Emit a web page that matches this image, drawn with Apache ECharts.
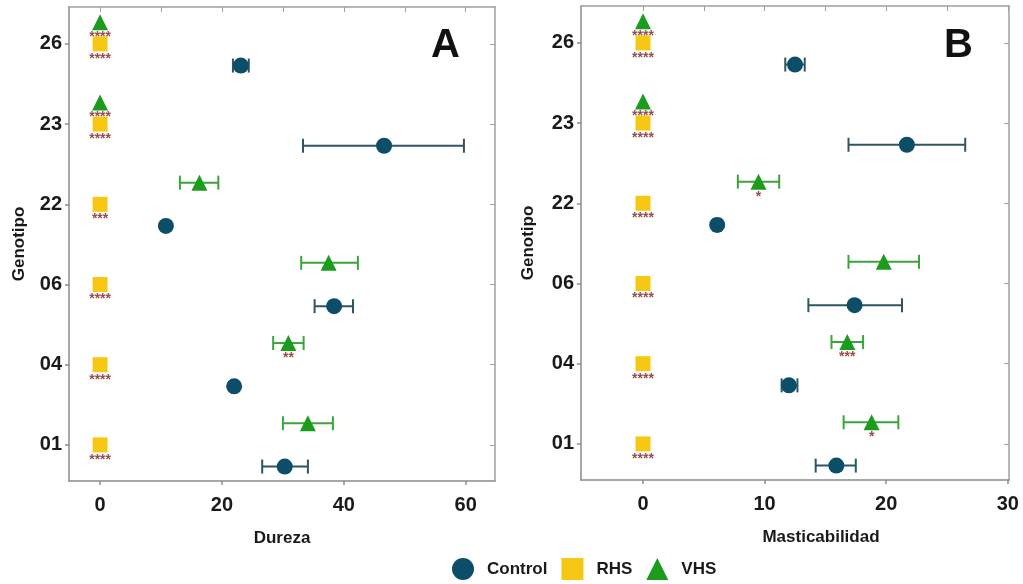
<!DOCTYPE html>
<html>
<head>
<meta charset="utf-8">
<title>Dureza y Masticabilidad</title>
<style>
  html, body { margin: 0; padding: 0; background: #fff; }
  #main { width: 1023px; height: 584px; }
</style>
<script src="https://cdn.jsdelivr.net/npm/echarts@6/dist/echarts.min.js"></script>
</head>
<body>
<div id="main"></div>
<script>
// datos (orden de abajo hacia arriba)
var genotipos = ['01', '04', '06', '22', '23', '26'];

// Panel A - Dureza
var durezaControl   = [30.3, 22.0, 38.4, 10.8, 46.6, 23.1];
var durezaControlLo = [26.6, 21.6, 35.2, 10.4, 33.3, 21.8];
var durezaControlHi = [34.1, 22.4, 41.5, 11.2, 59.7, 24.4];
var durezaRHS       = [0, 0, 0, 0, 0, 0];
var durezaVHS       = [34.1, 30.9, 37.5, 16.3, 0, 0];
var durezaVHSLo     = [30.0, 28.4, 33.0, 13.1, 0, 0];
var durezaVHSHi     = [38.2, 33.4, 42.3, 19.4, 0, 0];
var durezaRHSStars  = ['****', '****', '****', '***', '****', '****'];
var durezaVHSStars  = ['', '**', '', '', '****', '****'];

// Panel B - Masticabilidad
var mastControl   = [15.9, 12.0, 17.4, 6.1, 21.7, 12.5];
var mastControlLo = [14.2, 11.4, 13.6, 5.8, 16.9, 11.7];
var mastControlHi = [17.5, 12.7, 21.3, 6.4, 26.5, 13.3];
var mastRHS       = [0, 0, 0, 0, 0, 0];
var mastVHS       = [18.8, 16.8, 19.8, 9.5, 0, 0];
var mastVHSLo     = [16.5, 15.5, 16.9, 7.8, 0, 0];
var mastVHSHi     = [21.0, 18.1, 22.7, 11.2, 0, 0];
var mastRHSStars  = ['****', '****', '****', '****', '****', '****'];
var mastVHSStars  = ['*', '***', '', '*', '****', '****'];

var durezaTicks = [0, 20, 40, 60];
var durezaMinor = [0, 10, 20, 30, 40, 50, 60];
var mastTicks = [0, 10, 20, 30];
var mastMinor = [0, 5, 10, 15, 20, 25, 30];

var FONT = 'Liberation Sans, Arial, sans-serif';
var TXT = '#1a1a1a';
var AXIS = '#8a8a8a';
var C_CONTROL = '#0c4e68', C_CONTROL_BAR = '#2f5565';
var C_RHS = '#f6c814';
var C_VHS = '#1c9c1c', C_VHS_BAR = '#3aa53a';
var C_STAR = '#7d1d1d';
var DODGE = 0.27;

var myChart = echarts.init(document.getElementById('main'));

// barra de error horizontal
function errorBar(params, api) {
    var lo = api.coord([api.value(0), api.value(2)]);
    var hi = api.coord([api.value(1), api.value(2)]);
    var h = 7;
    var st = { stroke: api.visual('color'), lineWidth: 2 };
    return {
        type: 'group',
        children: [
            { type: 'line', shape: { x1: lo[0], y1: lo[1], x2: hi[0], y2: hi[1] }, style: st },
            { type: 'line', shape: { x1: lo[0], y1: lo[1] - h, x2: lo[0], y2: lo[1] + h }, style: st },
            { type: 'line', shape: { x1: hi[0], y1: hi[1] - h, x2: hi[0], y2: hi[1] + h }, style: st }
        ]
    };
}

function panelSeries(g, ctrl, ctrlLo, ctrlHi, rhs, vhs, vhsLo, vhsHi, rhsStars, vhsStars) {
    var ctrlBars = [], vhsBars = [], ctrlPts = [], rhsPts = [], vhsPts = [], stars = [];
    for (var i = 0; i < genotipos.length; i++) {
        ctrlBars.push([ctrlLo[i], ctrlHi[i], i - DODGE]);
        if (vhsHi[i] > vhsLo[i]) vhsBars.push([vhsLo[i], vhsHi[i], i + DODGE]);
        ctrlPts.push([ctrl[i], i - DODGE]);
        rhsPts.push([rhs[i], i]);
        vhsPts.push([vhs[i], i + DODGE]);
        if (rhsStars[i]) stars.push({ name: rhsStars[i], value: [rhs[i], i] });
        if (vhsStars[i]) stars.push({ name: vhsStars[i], value: [vhs[i], i + DODGE] });
    }
    var ax = { xAxisIndex: g * 2, yAxisIndex: g * 2 };
    return [
        Object.assign({ name: 'Control SE', type: 'custom', renderItem: errorBar,
            itemStyle: { color: C_CONTROL_BAR }, encode: { x: [0, 1], y: 2 }, data: ctrlBars, z: 2 }, ax),
        Object.assign({ name: 'VHS SE', type: 'custom', renderItem: errorBar,
            itemStyle: { color: C_VHS_BAR }, encode: { x: [0, 1], y: 2 }, data: vhsBars, z: 2 }, ax),
        Object.assign({ name: 'Control', type: 'scatter', symbol: 'circle', symbolSize: 16,
            itemStyle: { color: C_CONTROL, opacity: 1 }, data: ctrlPts, z: 3 }, ax),
        Object.assign({ name: 'RHS', type: 'scatter', symbol: 'rect', symbolSize: 15,
            itemStyle: { color: C_RHS, opacity: 1 }, data: rhsPts, z: 3 }, ax),
        Object.assign({ name: 'VHS', type: 'scatter', symbol: 'triangle', symbolSize: 16,
            itemStyle: { color: C_VHS, opacity: 1 }, data: vhsPts, z: 3 }, ax),
        Object.assign({ name: 'sig', type: 'scatter', symbolSize: 0, data: stars, z: 4, silent: true,
            label: { show: true, position: 'inside', offset: [0, 15], formatter: '{b}',
                color: C_STAR, fontSize: 14, fontWeight: 'bold', fontFamily: FONT } }, ax)
    ];
}

var lineStyle = { color: AXIS, width: 1.5 };
var labelStyle = { fontFamily: FONT, fontWeight: 'bold', fontSize: 20, color: TXT };
var nameStyle = { fontFamily: FONT, fontWeight: 'bold', fontSize: 17, color: TXT };

function xAxes(g, min, max, ticks, minor, name, namePad) {
    return [
        { gridIndex: g, type: 'value', min: min, max: max, position: 'bottom',
          name: name, nameLocation: 'middle', nameGap: 49,
          nameTextStyle: Object.assign({ padding: namePad }, nameStyle),
          axisLine: { show: true, onZero: false, lineStyle: lineStyle },
          axisTick: { show: true, length: 4, customValues: ticks, lineStyle: lineStyle },
          axisLabel: Object.assign({ customValues: ticks, margin: 14 }, labelStyle),
          splitLine: { show: false } },
        { gridIndex: g, type: 'value', min: min, max: max, position: 'top',
          axisLine: { show: true, onZero: false, lineStyle: { color: '#a0a0a0', width: 1.5 } },
          axisTick: { show: true, inside: true, length: 5, customValues: minor, lineStyle: { color: '#a0a0a0' } },
          axisLabel: { show: false }, splitLine: { show: false } }
    ];
}

function yAxes(g, gap) {
    var vals = [0, 1, 2, 3, 4, 5];
    return [
        { gridIndex: g, type: 'value', min: -0.45, max: 5.46, position: 'left',
          name: 'Genotipo', nameLocation: 'middle', nameGap: gap, nameRotate: 90, nameTextStyle: nameStyle,
          axisLine: { show: true, onZero: false, lineStyle: lineStyle },
          axisTick: { show: true, length: 4, customValues: vals, lineStyle: lineStyle },
          axisLabel: Object.assign({ customValues: vals, margin: 7,
              formatter: function (v) { return genotipos[Math.round(v)]; } }, labelStyle),
          splitLine: { show: false } },
        { gridIndex: g, type: 'value', min: -0.45, max: 5.46, position: 'right',
          axisLine: { show: true, onZero: false, lineStyle: { color: '#a0a0a0', width: 1.5 } },
          axisTick: { show: true, inside: true, length: 5, customValues: vals, lineStyle: { color: '#a0a0a0' } },
          axisLabel: { show: false }, splitLine: { show: false } }
    ];
}

var option = {
    backgroundColor: '#fff',
    animation: false,
    title: [
        { text: 'A', left: 431, top: 26, padding: 0,
          textStyle: { fontFamily: FONT, fontWeight: 'bold', fontSize: 40, color: '#111' } },
        { text: 'B', left: 944, top: 26, padding: 0,
          textStyle: { fontFamily: FONT, fontWeight: 'bold', fontSize: 40, color: '#111' } }
    ],
    legend: {
        left: 447, top: 553, itemWidth: 22, itemHeight: 22, itemGap: 14,
        data: [{ name: 'Control', icon: 'circle' }, { name: 'RHS', icon: 'rect' }, { name: 'VHS', icon: 'triangle' }],
        textStyle: { fontFamily: FONT, fontWeight: 'bold', fontSize: 17, color: TXT, padding: [0, 0, 0, 8] }
    },
    grid: [
        { left: 69, right: 528, top: 7, bottom: 103 },
        { left: 581, right: 14, top: 6, bottom: 104 }
    ],
    xAxis: xAxes(0, -5.1, 64.8, durezaTicks, durezaMinor, 'Dureza', [0, 0, 0, 0])
        .concat(xAxes(1, -5.1, 30.1, mastTicks, mastMinor, 'Masticabilidad', [0, 0, 0, 52])),
    yAxis: yAxes(0, 41).concat(yAxes(1, 44)),
    series: panelSeries(0, durezaControl, durezaControlLo, durezaControlHi, durezaRHS,
                        durezaVHS, durezaVHSLo, durezaVHSHi, durezaRHSStars, durezaVHSStars)
        .concat(panelSeries(1, mastControl, mastControlLo, mastControlHi, mastRHS,
                        mastVHS, mastVHSLo, mastVHSHi, mastRHSStars, mastVHSStars))
};

myChart.setOption(option);
window.onresize = myChart.resize;
</script>
</body>
</html>
